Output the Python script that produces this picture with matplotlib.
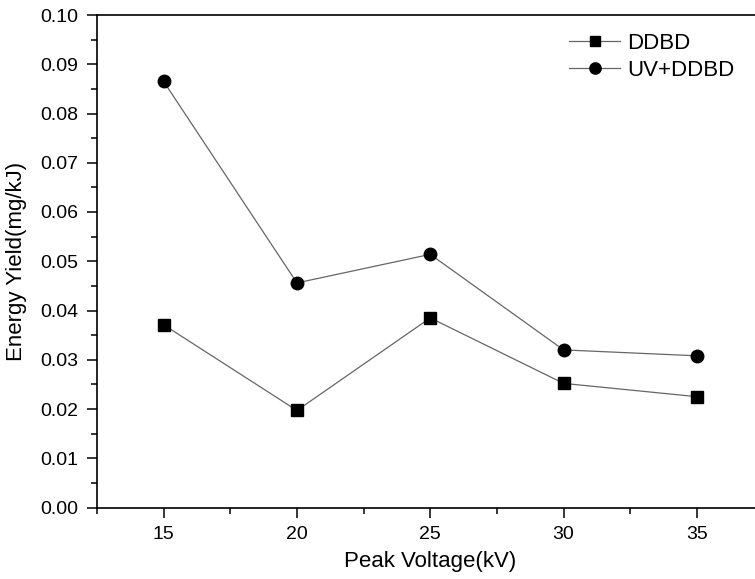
import numpy as np
import matplotlib
matplotlib.use("Agg")
import matplotlib.pyplot as plt
from matplotlib.ticker import MultipleLocator

plt.rcParams['font.family'] = ['Liberation Sans', 'DejaVu Sans']

voltage = [15, 20, 25, 30, 35]
ddbd = [0.0371, 0.0197, 0.0385, 0.0252, 0.0225]
uv_ddbd = [0.0865, 0.0456, 0.0514, 0.0320, 0.0308]

W, H = 755, 579
fig = plt.figure(figsize=(W / 100, H / 100), dpi=100)
ax = fig.add_axes([97 / W, (H - 507.5) / H, (763.5 - 97) / W, (507.5 - 15) / H])

ax.plot(voltage, ddbd, color='#666666', lw=0.9, marker='s', ms=8.5,
        mfc='black', mec='black', label='DDBD')
ax.plot(voltage, uv_ddbd, color='#666666', lw=0.9, marker='o', ms=9,
        mfc='black', mec='black', label='UV+DDBD')

ax.set_xlim(12.5, 37.5)
ax.set_ylim(0, 0.10)
ax.xaxis.set_major_locator(MultipleLocator(5))
ax.xaxis.set_minor_locator(MultipleLocator(2.5))
ax.yaxis.set_major_locator(MultipleLocator(0.01))
ax.yaxis.set_minor_locator(MultipleLocator(0.005))
ax.yaxis.set_major_formatter(plt.FormatStrFormatter('%.2f'))

ax.tick_params(which='both', direction='out', width=1.1, labelsize=14, pad=6)
ax.tick_params(which='major', length=7.5)
ax.tick_params(which='minor', length=4.5)
for s in ax.spines.values():
    s.set_linewidth(1.2)

ax.set_xlabel("Peak Voltage(kV)", fontsize=16, labelpad=5.5)
ax.set_ylabel("Energy Yield(mg/kJ)", fontsize=16, labelpad=9.5)

ax.legend(loc='upper left', bbox_to_anchor=(569 / W, 1 - 33 / H),
          bbox_transform=fig.transFigure, frameon=False, fontsize=16,
          borderpad=0, borderaxespad=0, handlelength=2.3, handletextpad=0.3,
          labelspacing=0.25, markerscale=0.9)

fig.savefig("out.png", dpi=100)
plt.close(fig)
